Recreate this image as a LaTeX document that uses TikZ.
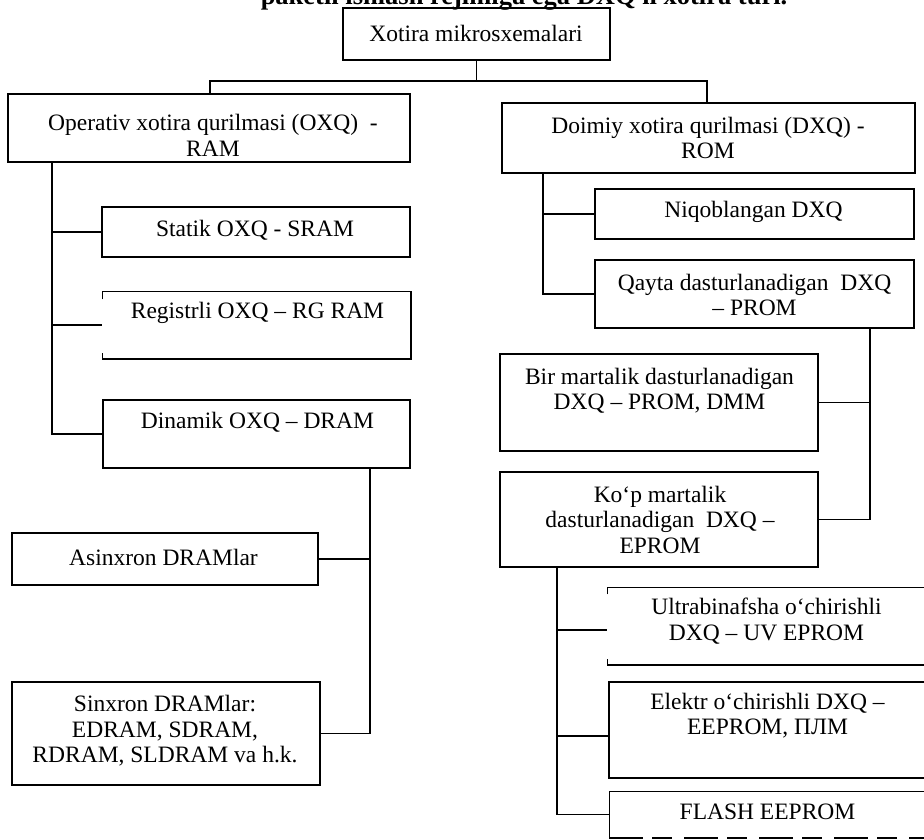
\documentclass[tikz,border=0pt]{standalone}
\usepackage{fontspec}
\setmainfont{Liberation Serif}
\begin{document}
\begin{tikzpicture}[x=1pt,y=-1pt,
  line width=1.5pt,
  box/.style={draw, rectangle, inner sep=0pt},
  frame/.style={rectangle, inner sep=0pt},
  lbl/.style={align=center, inner sep=0pt, font=\fontsize{23.5}{25.5}\selectfont},
  head/.style={inner sep=0pt, font=\fontsize{26.5}{28}\selectfont\bfseries},
]
\useasboundingbox (0,0) rectangle (924,839);
\fill[white] (0,0) rectangle (924,839);
\begin{scope}
\clip (0,0) rectangle (924,839);

% last line of the preceding paragraph
\node[head, anchor=base west] (prev) at (260,4) {paketli ishlash rejimiga ega DXQ li xotira turi.};

% root
\node[box, minimum width=267pt, minimum height=52pt] (top) at (476.5,34) {};
\node[lbl] (top-t) at (476,33) {Xotira mikrosxemalari};

% RAM branch
\node[box, minimum width=402pt, minimum height=68pt] (ram) at (209,128) {};
\node[lbl] (ram-t) at (213,135.5) {Operativ xotira qurilmasi (OXQ)\ \ -\\RAM};

\node[box, minimum width=308pt, minimum height=50pt] (sram) at (256,232) {};
\node[lbl] (sram-t) at (255,230) {Statik OXQ - SRAM};

\node[frame, minimum width=307pt, minimum height=66pt] (rg) at (256.5,325) {};
\node[lbl] (rg-t) at (257.5,313) {Registrli OXQ – RG RAM};

\node[box, minimum width=307pt, minimum height=68pt] (dram) at (256.5,434) {};
\node[lbl] (dram-t) at (257.5,422) {Dinamik OXQ – DRAM};

\node[box, minimum width=306pt, minimum height=52pt] (async) at (165,559) {};
\node[lbl] (async-t) at (163.5,557) {Asinxron DRAMlar};

\node[box, minimum width=308pt, minimum height=103pt] (sync) at (166,733.5) {};
\node[lbl] (sync-t) at (165,731) {Sinxron DRAMlar:\\EDRAM, SDRAM,\\RDRAM, SLDRAM va h.k.};

% ROM branch
\node[box, minimum width=413pt, minimum height=70pt] (rom) at (708.5,138) {};
\node[lbl] (rom-t) at (708,138) {Doimiy xotira qurilmasi (DXQ) -\\ROM};

\node[box, minimum width=319pt, minimum height=50pt] (mask) at (754.5,214) {};
\node[lbl] (mask-t) at (753.5,212) {Niqoblangan DXQ};

\node[box, minimum width=319pt, minimum height=68pt] (prom) at (754.5,294) {};
\node[lbl] (prom-t) at (754.5,295) {Qayta dasturlanadigan\ \ DXQ\\– PROM};

\node[box, minimum width=318pt, minimum height=97pt] (otp) at (659,402.5) {};
\node[lbl] (otp-t) at (659.5,390.5) {Bir martalik dasturlanadigan\\DXQ – PROM, DMM};

\node[box, minimum width=318pt, minimum height=95pt] (eprom) at (659,519.5) {};
\node[lbl] (eprom-t) at (660,519.5) {Ko‘p martalik\\dasturlanadigan\ \ DXQ –\\EPROM};

\node[frame, minimum width=317pt, minimum height=76pt] (uv) at (766.5,626) {};
\node[lbl] (uv-t) at (766.5,621) {Ultrabinafsha o‘chirishli\\DXQ – UV EPROM};

\node[box, minimum width=317pt, minimum height=96pt] (ee) at (767.5,730) {};
\node[lbl] (ee-t) at (767.5,715.5) {Elektr o‘chirishli DXQ –\\EEPROM, ПЛМ};

\node[frame, minimum width=316pt, minimum height=45pt] (flash) at (768,814.5) {};
\node[lbl] (flash-t) at (767.5,812) {FLASH EEPROM};

% outlines with broken left sides
\draw ([yshift=-8pt]rg.north west) -- (rg.north west) -- (rg.north east)
      -- (rg.south east) -- (rg.south west) -- ([yshift=6pt]rg.south west);
\draw ([yshift=-7pt]uv.north west) -- (uv.north west) -- (uv.north east)
      -- (uv.south east) -- (uv.south west) -- ([yshift=6pt]uv.south west);
\draw (flash.south west) -- (flash.north west) -- (flash.north east) -- (flash.south east);
\draw[dash pattern=on 34pt off 9pt on 20pt off 12pt] (flash.south west) -- (flash.south east);

% root bus
\coordinate (busL) at (210,81);
\coordinate (busR) at (707,81);
\draw (top.south) -- (top.south |- busL);
\draw (busL |- ram.north) -- (busL) -- (busR) -- (busR |- rom.north);

% RAM trunk
\coordinate (tL) at (52,0);
\draw (tL |- ram.south) -- (tL |- dram.west) -- (dram.west);
\draw (tL |- sram.west) -- (sram.west);
\draw (tL |- rg.west) -- (rg.west);

% DRAM trunk
\coordinate (tD) at (370,0);
\draw (tD |- dram.south) -- (tD |- sync.east) -- (sync.east);
\draw (tD |- async.east) -- (async.east);

% ROM trunk
\coordinate (tR) at (543,0);
\draw (tR |- rom.south) -- (tR |- prom.west) -- (prom.west);
\draw (tR |- mask.west) -- (mask.west);

% PROM trunk
\coordinate (tP) at (870,0);
\draw (tP |- prom.south) -- (tP |- eprom.east) -- (eprom.east);
\draw (tP |- otp.east) -- (otp.east);

% EPROM trunk
\coordinate (tE) at (557,0);
\coordinate (uvIn) at ([yshift=-4pt]uv.west);
\coordinate (eeIn) at ([yshift=-6pt]ee.west);
\draw (tE |- eprom.south) -- (tE |- flash.west) -- (flash.west);
\draw (tE |- uvIn) -- (uvIn);
\draw (tE |- eeIn) -- (eeIn);
\end{scope}
\end{tikzpicture}
\end{document}
